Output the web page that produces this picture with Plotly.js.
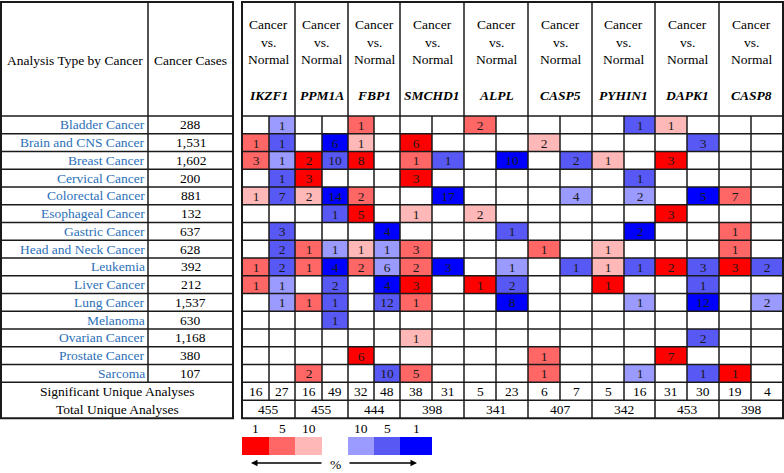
<!DOCTYPE html>
<html>
<head>
<meta charset="utf-8">
<script src="https://cdn.plot.ly/plotly-3.0.1.min.js"></script>
<style>html,body{margin:0;padding:0;background:#fff;}#chart{width:784px;height:473px;}</style>
</head>
<body>
<div id="chart"></div>
<script>
// ---------------- DATA ----------------
const cancers = ['Bladder Cancer','Brain and CNS Cancer','Breast Cancer','Cervical Cancer','Colorectal Cancer',
  'Esophageal Cancer','Gastric Cancer','Head and Neck Cancer','Leukemia','Liver Cancer','Lung Cancer',
  'Melanoma','Ovarian Cancer','Prostate Cancer','Sarcoma'];
const cases = ['288','1,531','1,602','200','881','132','637','628','392','212','1,537','630','1,168','380','107'];
const genes = ['IKZF1','PPM1A','FBP1','SMCHD1','ALPL','CASP5','PYHIN1','DAPK1','CASP8'];
const sigCounts = [16,27,16,49,32,48,38,31,5,23,6,7,5,16,31,30,19,4];
const totalCounts = [455,455,444,398,341,407,342,453,398];
// counts per cancer row; columns = for each gene [over-expressed, under-expressed]
const n = null;
const counts = [
  [n,1,n,n,1,n,n,n,2,n,n,n,n,1,1,n,n,n],
  [1,1,n,6,1,n,6,n,n,n,2,n,n,n,n,3,n,n],
  [3,1,2,10,8,n,1,1,n,10,n,2,1,n,3,n,n,n],
  [n,1,3,n,n,n,3,n,n,n,n,n,n,1,n,n,n,n],
  [1,7,2,14,2,n,n,17,n,n,n,4,n,2,n,5,7,n],
  [n,n,n,1,5,n,1,n,2,n,n,n,n,n,3,n,n,n],
  [n,3,n,n,n,4,n,n,n,1,n,n,n,2,n,n,1,n],
  [n,2,1,1,1,1,3,n,n,n,1,n,1,n,n,n,1,n],
  [1,2,1,4,2,6,2,3,n,1,n,1,1,1,2,3,3,2],
  [1,1,n,2,n,4,3,n,1,2,n,n,1,n,n,1,n,n],
  [n,1,1,1,n,12,1,n,n,8,n,n,n,1,n,12,n,2],
  [n,n,n,1,n,n,n,n,n,n,n,n,n,n,n,n,n,n],
  [n,n,n,n,n,n,1,n,n,n,n,n,n,n,n,2,n,n],
  [n,n,n,n,6,n,n,n,n,n,1,n,n,n,7,n,n,n],
  [n,n,2,n,n,10,5,n,n,n,1,n,n,1,n,1,1,n]
];
// gene rank threshold (top %) of each cell
const ranks = [
  [n,10,n,n,5,n,n,n,5,n,n,n,n,5,10,n,n,n],
  [5,5,n,1,10,n,1,n,n,n,10,n,n,n,n,5,n,n],
  [5,10,1,5,1,n,5,5,n,1,n,5,10,n,1,n,n,n],
  [n,5,1,n,n,n,1,n,n,n,n,n,n,5,n,n,n,n],
  [10,5,10,1,5,n,n,1,n,n,n,10,n,10,n,1,5,n],
  [n,n,n,5,1,n,10,n,10,n,n,n,n,n,1,n,n,n],
  [n,5,n,n,n,1,n,n,n,5,n,n,n,1,n,n,5,n],
  [n,5,5,10,10,10,5,n,n,n,5,n,10,n,n,n,5,n],
  [5,5,5,1,5,10,5,1,n,10,n,5,10,5,1,5,1,5],
  [5,10,n,5,n,1,1,n,1,5,n,n,1,n,n,5,n,n],
  [n,10,5,5,n,5,5,n,n,1,n,n,n,10,n,1,n,10],
  [n,n,n,5,n,n,n,n,n,n,n,n,n,n,n,n,n,n],
  [n,n,n,n,n,n,10,n,n,n,n,n,n,n,n,5,n,n],
  [n,n,n,n,1,n,n,n,n,n,5,n,n,n,1,n,n,n],
  [n,n,5,n,n,5,5,n,n,n,5,n,n,10,n,5,1,n]
];
const legendOver = [1,5,10];
const legendUnder = [10,5,1];

// ---------------- LAYOUT CONSTANTS ----------------
const W = 784, H = 473;
const FONT = 'Liberation Serif';
const FS = 13.5;
const LX0 = 1, LX1 = 233, LDIV = 148;
const TX0 = 242;
const GROUP_W = [53,53,52,64,64,64,63,64,64];
const TOP = 2, HEAD_B = 116, ROW_H = 17.75;
const SIG_H = 18;
const levelOf = {1:3, 5:2, 10:1};
const colors = ['#ff0000','#ff6666','#ffb8b8','#ffffff','#9a9aff','#5858f5','#0000ff'];
const colorscale = [];
colors.forEach((c,i)=>{ colorscale.push([i/7,c]); colorscale.push([(i+1)/7,c]); });

const groupEdges = [TX0];
GROUP_W.forEach(w => groupEdges.push(groupEdges[groupEdges.length-1] + w));
const subEdges = [];
for (let g = 0; g < GROUP_W.length; g++) {
  subEdges.push(groupEdges[g]);
  subEdges.push(groupEdges[g] + Math.round(GROUP_W[g]/2));
}
subEdges.push(groupEdges[GROUP_W.length]);
const TX1 = groupEdges[groupEdges.length-1];
const rowEdges = [];
for (let i = 0; i <= cancers.length; i++) rowEdges.push(HEAD_B + i*ROW_H);
const BODY_B = rowEdges[rowEdges.length-1];
const SIG_B = BODY_B + SIG_H;
const TOT_B = SIG_B + SIG_H;

const zCode = (rank, col) => rank == null ? 0 : (col % 2 === 0 ? -1 : 1) * levelOf[rank];
const z = ranks.map(r => r.map((v,c) => zCode(v,c)));
const txt = counts.map(r => r.map(v => v == null ? '' : String(v)));

const traces = [{
  type: 'heatmap', x: subEdges, y: rowEdges, z: z, text: txt,
  texttemplate: '%{text}', textfont: {family: FONT, size: FS, color: '#1a1a1a'},
  colorscale: colorscale, zmin: -3.5, zmax: 3.5, showscale: false, hoverinfo: 'skip'
}];

// legend heatmap (aligned with the first sub-columns)
const LEG_Y0 = 437, LEG_Y1 = 455;
const legZ = [legendOver.map(r => zCode(r,0)).concat([null]).concat(legendUnder.map(r => zCode(r,1)))];
traces.push({
  type: 'heatmap', x: subEdges.slice(0,8), y: [LEG_Y0, LEG_Y1], z: legZ,
  colorscale: colorscale, zmin: -3.5, zmax: 3.5, showscale: false, hoverinfo: 'skip'
});

// ---------------- SHAPES ----------------
const shapes = [];
const LC = '#1a1a1a';
const line = (x0,y0,x1,y1,w) => shapes.push({type:'line', xref:'x', yref:'y', x0, y0, x1, y1, layer:'above', line:{color:LC, width:w||1.5}});
// left table
shapes.push({type:'rect', xref:'x', yref:'y', x0:LX0, x1:LX1, y0:TOP, y1:TOT_B, layer:'above', line:{color:LC, width:2}});
line(LDIV, TOP, LDIV, BODY_B);
rowEdges.forEach(y => line(LX0, y, LX1, y));
// right table
shapes.push({type:'rect', xref:'x', yref:'y', x0:TX0, x1:TX1, y0:TOP, y1:TOT_B, layer:'above', line:{color:LC, width:2}});
groupEdges.forEach(x => line(x, TOP, x, TOT_B));
subEdges.forEach((x,i) => { if (i % 2 === 1) line(x, HEAD_B, x, SIG_B); });
rowEdges.forEach(y => line(TX0, y, TX1, y));
line(TX0, SIG_B, TX1, SIG_B);

// ---------------- ANNOTATIONS ----------------
const ann = [];
const A = (x,y,text,opt) => ann.push(Object.assign({xref:'x', yref:'y', x, y, text, showarrow:false,
  font:{family:FONT, size:FS, color:'#000'}, xanchor:'center', yanchor:'middle'}, opt||{}));
A((LX0+LDIV)/2, 60, 'Analysis Type by Cancer');
A((LDIV+LX1)/2, 60, 'Cancer Cases');
cancers.forEach((c,i) => {
  const yc = (rowEdges[i]+rowEdges[i+1])/2;
  A(LDIV-1, yc, c, {xanchor:'right', font:{family:FONT, size:FS, color:'#2b70b8'}});
  A((LDIV+LX1)/2, yc, cases[i]);
});
A((LX0+LX1)/2, (BODY_B+SIG_B)/2, 'Significant Unique Analyses');
A((LX0+LX1)/2, (SIG_B+TOT_B)/2, 'Total Unique Analyses');
genes.forEach((g,i) => {
  const xc = (groupEdges[i]+groupEdges[i+1])/2;
  A(xc, 24, 'Cancer'); A(xc, 42, 'vs.'); A(xc, 59, 'Normal');
  A(xc, 95, '<b><i>'+g+'</i></b>');
  A(xc, (SIG_B+TOT_B)/2, String(totalCounts[i]));
});
sigCounts.forEach((s,i) => A((subEdges[i]+subEdges[i+1])/2, (BODY_B+SIG_B)/2, String(s)));
legendOver.forEach((v,i) => A((subEdges[i]+subEdges[i+1])/2, 428, String(v)));
legendUnder.forEach((v,i) => A((subEdges[i+4]+subEdges[i+5])/2, 428, String(v)));
A((subEdges[3]+subEdges[4])/2, 464, '%');
ann.push({xref:'x', yref:'y', x:subEdges[0]+9, y:463, ax:subEdges[3]+1, ay:463, axref:'x', ayref:'y',
  text:'', showarrow:true, arrowhead:2, arrowsize:1, arrowwidth:1.3, arrowcolor:'#000'});
ann.push({xref:'x', yref:'y', x:subEdges[6]+17, y:463, ax:subEdges[4], ay:463, axref:'x', ayref:'y',
  text:'', showarrow:true, arrowhead:2, arrowsize:1, arrowwidth:1.3, arrowcolor:'#000'});

const layout = {
  width: W, height: H, margin: {l:0, r:0, t:0, b:0},
  font: {family: FONT, size: FS, color: '#000'},
  paper_bgcolor: '#ffffff', plot_bgcolor: '#ffffff',
  xaxis: {range:[0,W], visible:false, fixedrange:true},
  yaxis: {range:[H,0], visible:false, fixedrange:true},
  shapes: shapes, annotations: ann, showlegend: false
};
Plotly.newPlot('chart', traces, layout, {staticPlot:true, displayModeBar:false});
</script>
</body>
</html>
